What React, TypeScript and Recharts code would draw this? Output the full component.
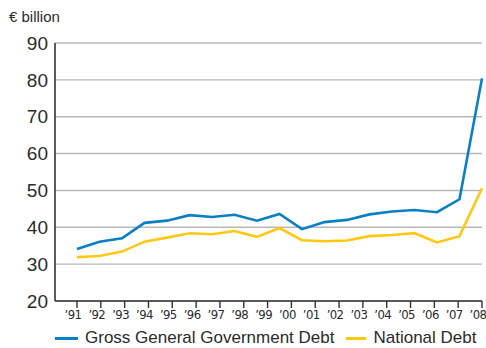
import { LineChart, Line, XAxis, YAxis, CartesianGrid, Legend } from "recharts";

// Debt levels in € billion, one value per year on the series
const GROSS_DEBT = [
  34.1, 36.1, 37.0, 41.2, 41.8, 43.3, 42.8, 43.4, 41.8, 43.6,
  39.5, 41.4, 42.0, 43.5, 44.3, 44.7, 44.1, 47.6, 80.4,
];
const NATIONAL_DEBT = [
  31.9, 32.2, 33.4, 36.1, 37.2, 38.4, 38.1, 39.0, 37.4, 39.8,
  36.5, 36.2, 36.4, 37.6, 37.9, 38.4, 35.9, 37.6, 50.6,
];
const YEAR_LABELS = [
  "’91", "’92", "’93", "’94", "’95", "’96", "’97", "’98", "’99",
  "’00", "’01", "’02", "’03", "’04", "’05", "’06", "’07", "’08",
];
const Y_TICKS = [20, 30, 40, 50, 60, 70, 80, 90];

const COLORS = { gross: "#0a7fc2", national: "#ffc814" };
const TEXT = "#2b2b2b";
const FONT = "'Liberation Sans', Arial, sans-serif";
const NARROW = "'Liberation Sans Narrow', 'DejaVu Sans Condensed', sans-serif";

const data = GROSS_DEBT.map((gross, i) => ({ pos: i, gross, national: NATIONAL_DEBT[i] }));
const lastPos = data.length - 1;
// year labels are spread evenly over the full run of the series
const xTicks = YEAR_LABELS.map((_, i) => (i * lastPos) / (YEAR_LABELS.length - 1));

const LEGEND_ITEMS = [
  { key: "gross", label: "Gross General Government Debt", color: COLORS.gross, left: 55, width: 23 },
  { key: "national", label: "National Debt", color: COLORS.national, left: 12, width: 20 },
];

function LegendRow() {
  return (
    <div style={{ display: "flex", alignItems: "center", height: 20, fontFamily: FONT, fontSize: 17, color: TEXT }}>
      {LEGEND_ITEMS.map((it) => (
        <div key={it.key} style={{ display: "flex", alignItems: "center", marginLeft: it.left }}>
          <span style={{ display: "inline-block", width: it.width, height: 3, background: it.color, marginRight: 7 }} />
          <span style={{ whiteSpace: "nowrap" }}>{it.label}</span>
        </div>
      ))}
    </div>
  );
}

export default function App() {
  return (
    <div style={{ position: "relative", width: 486, height: 348, background: "#fff" }}>
      <style>{`body{margin:0}`}</style>
      <div style={{ position: "absolute", left: 9, top: 8, fontFamily: FONT, fontSize: 15, color: TEXT }}>
        € billion
      </div>
      <LineChart width={486} height={348} data={data} margin={{ top: 43, right: 4, left: 0, bottom: 0 }}>
        <CartesianGrid vertical={false} stroke="#b8b8b8" strokeWidth={1.4} />
        <XAxis
          dataKey="pos"
          type="number"
          domain={[0, lastPos]}
          ticks={xTicks}
          interval={0}
          tickFormatter={(_, i) => YEAR_LABELS[i]}
          padding={{ left: 22, right: 0 }}
          height={27}
          tickSize={7}
          tickMargin={2}
          axisLine={{ stroke: "#333", strokeWidth: 1.6 }}
          tickLine={{ stroke: "#333", strokeWidth: 1.4 }}
          tick={{ fontSize: 13, fill: TEXT, fontFamily: NARROW, letterSpacing: -0.6, dx: -4 }}
        />
        <YAxis
          domain={[20, 90]}
          ticks={Y_TICKS}
          width={55}
          tickLine={false}
          tickSize={0}
          tickMargin={7}
          axisLine={{ stroke: "#333", strokeWidth: 1.6 }}
          tick={{ fontSize: 19, fill: TEXT, fontFamily: FONT }}
        />
        <Legend verticalAlign="bottom" height={20} content={() => <LegendRow />} />
        <Line dataKey="national" stroke={COLORS.national} strokeWidth={2.6} dot={false} isAnimationActive={false} />
        <Line dataKey="gross" stroke={COLORS.gross} strokeWidth={2.6} dot={false} isAnimationActive={false} />
      </LineChart>
    </div>
  );
}
